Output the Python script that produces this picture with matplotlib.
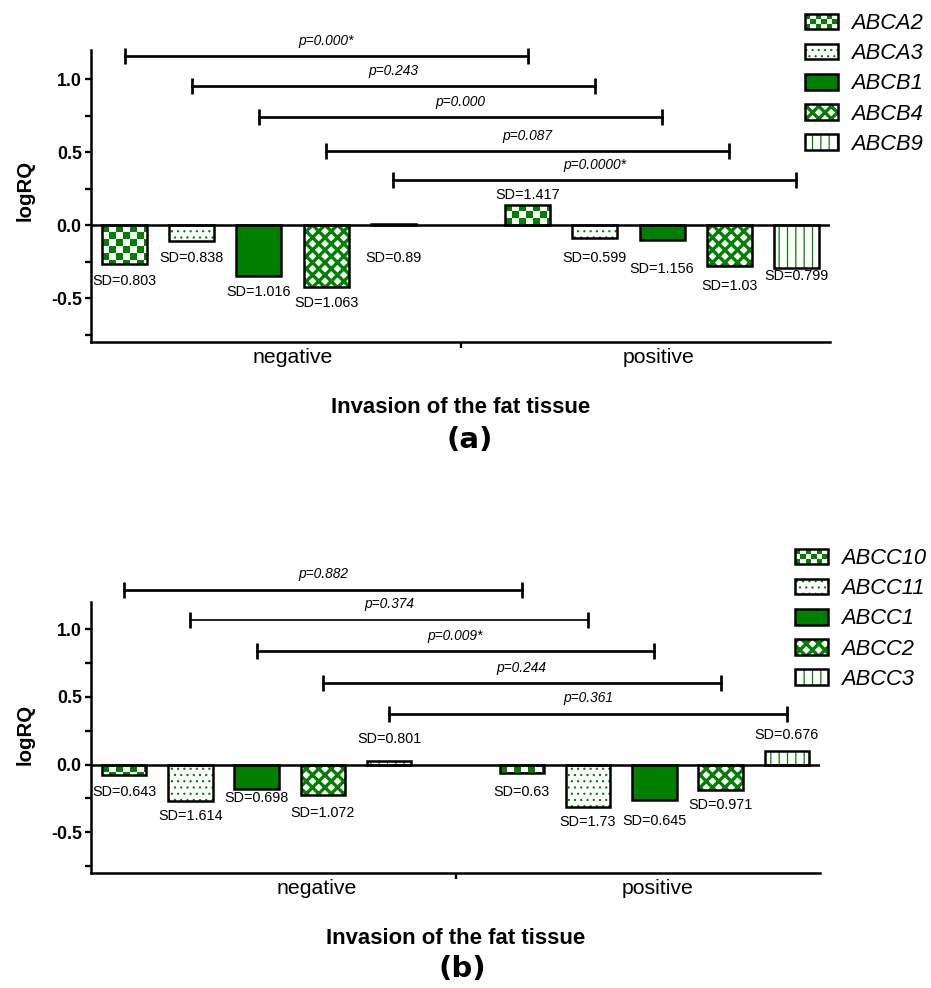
import numpy as np
import matplotlib
matplotlib.use("Agg")
import matplotlib.pyplot as plt
from matplotlib.patches import Rectangle
from matplotlib.collections import PatchCollection
from matplotlib.legend_handler import HandlerBase

plt.rcParams['font.family'] = ['Liberation Sans', 'DejaVu Sans']
plt.rcParams['axes.unicode_minus'] = False

GREEN = '#008000'

## expression data (log relative quantity) per gene and invasion status
groups = ["negative", "positive"]

genes_a = ["ABCA2", "ABCA3", "ABCB1", "ABCB4", "ABCB9"]
logrq_a_neg = [-0.267, -0.107, -0.347, -0.42, 0.01]
logrq_a_pos = [0.137, -0.09, -0.10, -0.28, -0.29]
sd_a_neg = ["0.803", "0.838", "1.016", "1.063", "0.89"]
sd_a_pos = ["1.417", "0.599", "1.156", "1.03", "0.799"]
p_a = ["0.000*", "0.243", "0.000", "0.087", "0.0000*"]

genes_b = ["ABCC10", "ABCC11", "ABCC1", "ABCC2", "ABCC3"]
logrq_b_neg = [-0.074, -0.27, -0.178, -0.227, 0.024]
logrq_b_pos = [-0.06, -0.31, -0.264, -0.185, 0.10]
sd_b_neg = ["0.643", "1.614", "0.698", "1.072", "0.801"]
sd_b_pos = ["0.63", "1.73", "0.645", "0.971", "0.676"]
p_b = ["0.882", "0.374", "0.009*", "0.244", "0.361"]

# fill pattern of each gene slot
patterns = ["checker", "....", "solid", "xxxx", "|||"]
hatch_lw = {"....": 0.5, "xxxx": 1.6, "|||": 0.6}

# label placement (data units)
sd_y_a = [[-0.384, -0.226, -0.459, -0.534, -0.226],
          [0.205, -0.226, -0.301, -0.418, -0.349]]
sd_y_b = [[-0.20, -0.38, -0.25, -0.356, 0.19],
          [-0.20, -0.42, -0.415, -0.30, 0.22]]
bracket_y_a = [1.158, 0.952, 0.74, 0.507, 0.308]
bracket_y_b = [1.29, 1.07, 0.835, 0.60, 0.373]
bracket_lw_b = [1.3, 0.8, 1.3, 1.3, 1.3]
group_x_a = [2.5, 7.95]
group_x_b = [2.9, 8.05]

BAR_W = 0.67
CELL_PX = 7.0


def set_hlw(p, lw):
    if hasattr(p, 'set_hatch_linewidth'):
        p.set_hatch_linewidth(lw)


def checker_cells(x0, y0, w, h, cw, ch):
    # green squares of a checkerboard filling the box, clipped at the edges
    cells = []
    nx = int(np.ceil(w / cw - 1e-6))
    ny = int(np.ceil(abs(h) / ch - 1e-6))
    sgn = 1 if h >= 0 else -1
    for i in range(nx):
        for j in range(ny):
            if (i + j) % 2:
                continue
            cx = x0 + i * cw
            ww = min(cw, x0 + w - cx)
            hh = min(ch, abs(h) - j * ch)
            cy = y0 + sgn * j * ch
            if sgn < 0:
                cy -= hh
            cells.append(Rectangle((cx, cy), ww, hh))
    return cells


def draw_bar(ax, x, v, pat):
    x0 = x - BAR_W / 2
    if pat == "solid":
        ax.bar(x, v, BAR_W, color=GREEN, lw=0)
    elif pat == "checker":
        ax.bar(x, v, BAR_W, color='white', lw=0)
        sx = ax.transData.transform((1, 0))[0] - ax.transData.transform((0, 0))[0]
        sy = ax.transData.transform((0, 1))[1] - ax.transData.transform((0, 0))[1]
        cells = checker_cells(x0, 0, BAR_W, v, CELL_PX / sx, CELL_PX / sy)
        ax.add_collection(PatchCollection(cells, facecolor=GREEN, edgecolor='none'))
    else:
        with plt.rc_context({'hatch.linewidth': hatch_lw[pat]}):
            b = ax.bar(x, v, BAR_W, color='white', edgecolor=GREEN, lw=0, hatch=pat)
        for p in b:
            set_hlw(p, hatch_lw[pat])
    ax.bar(x, v, BAR_W, fill=False, edgecolor='black', lw=1.2)


class PatternHandler(HandlerBase):
    def __init__(self, pat):
        super().__init__()
        self.pat = pat

    def create_artists(self, legend, orig_handle, xdescent, ydescent,
                       width, height, fontsize, trans):
        x0, y0 = -xdescent, -ydescent
        arts = []
        if self.pat == "solid":
            arts.append(Rectangle((x0, y0), width, height, facecolor=GREEN,
                                  lw=0, transform=trans))
        elif self.pat == "checker":
            arts.append(Rectangle((x0, y0), width, height, facecolor='white',
                                  lw=0, transform=trans))
            for c in checker_cells(x0, y0, width, height, width / 6, height / 3):
                c.set_facecolor(GREEN)
                c.set_linewidth(0)
                c.set_transform(trans)
                arts.append(c)
        else:
            with plt.rc_context({'hatch.linewidth': hatch_lw[self.pat]}):
                r = Rectangle((x0, y0), width, height, facecolor='white',
                              edgecolor=GREEN, lw=0, hatch=self.pat, transform=trans)
            set_hlw(r, hatch_lw[self.pat])
            arts.append(r)
        arts.append(Rectangle((x0, y0), width, height, fill=False,
                              edgecolor='black', lw=1.2, transform=trans))
        return arts


def panel(ax, genes, neg, pos, sd_neg, sd_pos, pvals, sd_y, br_y, br_lw, group_x,
          leg_anchor):
    ax.set_xlim(-0.5, 10.5)
    ax.set_ylim(-0.8, 1.2)

    xs_neg = np.arange(5)
    xs_pos = np.arange(5) + 6
    for i in range(5):
        draw_bar(ax, xs_neg[i], neg[i], patterns[i])
        draw_bar(ax, xs_pos[i], pos[i], patterns[i])

    ax.axhline(0, color='black', lw=1.2)

    for i in range(5):
        ax.text(xs_neg[i], sd_y[0][i], "SD=" + sd_neg[i], ha='center', va='center',
                fontsize=6.9)
        ax.text(xs_pos[i], sd_y[1][i], "SD=" + sd_pos[i], ha='center', va='center',
                fontsize=6.9)

    # significance brackets between the same gene in both groups
    for i in range(5):
        ax.plot([xs_neg[i], xs_pos[i]], [br_y[i], br_y[i]], color='black',
                lw=br_lw[i], marker='|', ms=8, mew=1.3, clip_on=False)
        ax.annotate("p=" + pvals[i], ((xs_neg[i] + xs_pos[i]) / 2, br_y[i]),
                    xytext=(0, 7.5), textcoords='offset points', ha='center',
                    va='center', fontsize=6.6, style='italic', annotation_clip=False)

    # axes styling
    for s in ('top', 'right'):
        ax.spines[s].set_visible(False)
    for s in ('left', 'bottom'):
        ax.spines[s].set_linewidth(1.2)
    ax.set_yticks([-0.5, 0.0, 0.5, 1.0])
    ax.set_yticks([-0.75, -0.25, 0.25, 0.75], minor=True)
    ax.tick_params(axis='y', which='both', length=3, width=1.1, direction='out')
    ax.tick_params(axis='y', which='major', labelsize=8.5, pad=1.5)
    for t in ax.get_yticklabels():
        t.set_fontweight('bold')
    ax.set_xticks([5])
    ax.set_xticklabels([])
    ax.set_xticks(group_x, minor=True)
    ax.set_xticklabels(groups, minor=True, fontsize=10.2)
    ax.tick_params(axis='x', which='major', length=3, width=1.1)
    ax.tick_params(axis='x', which='minor', length=0, pad=3)

    ax.set_ylabel("logRQ", fontsize=9.8, fontweight='bold')
    ax.set_xlabel("Invasion of the fat tissue", fontsize=10.6, fontweight='bold')

    handles = [Rectangle((0, 0), 1, 1) for _ in genes]
    hmap = {h: PatternHandler(p) for h, p in zip(handles, patterns)}
    leg = ax.figure.legend(handles, genes, handler_map=hmap, loc='upper left',
                           bbox_to_anchor=leg_anchor, frameon=False, borderpad=0,
                           borderaxespad=0, fontsize=10.5, handlelength=1.5,
                           handleheight=0.72, handletextpad=0.62, labelspacing=0.42)
    for t in leg.get_texts():
        t.set_style('italic')


W, H = 931, 988
fig = plt.figure(figsize=(W / 150, H / 150), dpi=150)

ax1 = fig.add_axes([91 / W, 1 - 342 / H, 739 / W, 292 / H])
ax2 = fig.add_axes([91 / W, 1 - 873 / H, 729 / W, 271 / H])

panel(ax1, genes_a, logrq_a_neg, logrq_a_pos, sd_a_neg, sd_a_pos, p_a,
      sd_y_a, bracket_y_a, [1.3] * 5, group_x_a, (805 / W, 1 - 13 / H))
panel(ax2, genes_b, logrq_b_neg, logrq_b_pos, sd_b_neg, sd_b_pos, p_b,
      sd_y_b, bracket_y_b, bracket_lw_b, group_x_b, (795 / W, 1 - 548 / H))

ax1.yaxis.set_label_coords(-0.076, 0.52)
ax2.yaxis.set_label_coords(-0.077, 0.51)
ax1.xaxis.set_label_coords(0.5, -0.19)
ax2.xaxis.set_label_coords(0.5, -0.203)

fig.text(470 / W, 1 - 440 / H, "(a)", ha='center', va='center', fontsize=14,
         fontweight='bold', family='DejaVu Sans')
fig.text(462 / W, 1 - 969 / H, "(b)", ha='center', va='center', fontsize=14,
         fontweight='bold', family='DejaVu Sans')

fig.savefig("out.png", dpi=150)
